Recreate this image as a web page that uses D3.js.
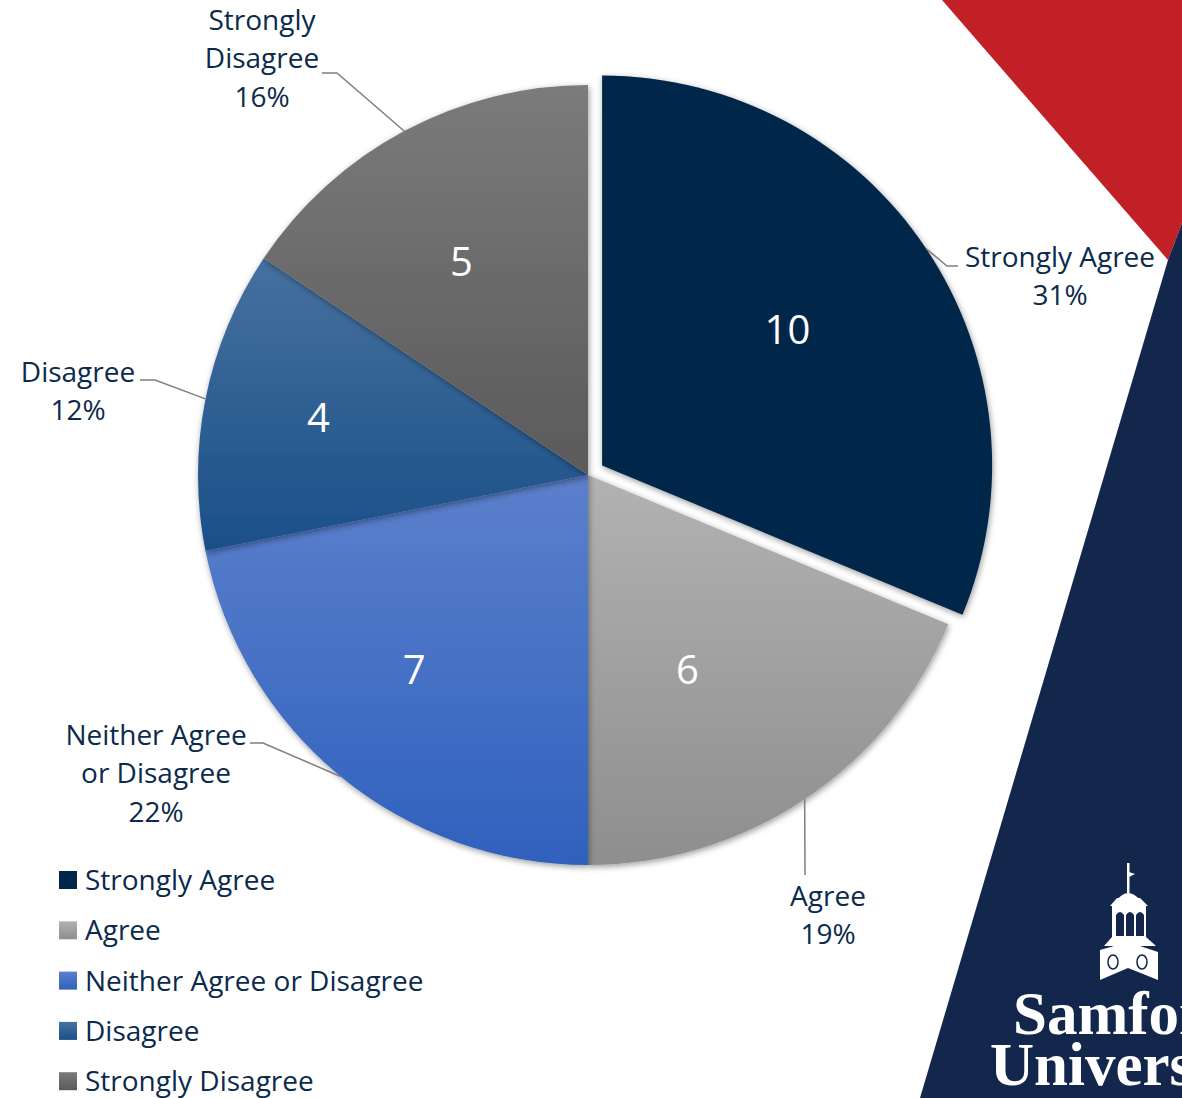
<!DOCTYPE html>
<html>
<head>
<meta charset="utf-8">
<script src="https://cdn.jsdelivr.net/npm/d3@7"></script>
<style>
  body { margin: 0; background: #fff; }
  svg { display: block; font-family: "Open Sans", sans-serif; }
</style>
</head>
<body>
<div id="chart"></div>
<script>
// chart data
let categories = ["Strongly Agree", "Agree", "Neither Agree or Disagree", "Disagree", "Strongly Disagree"];
let values = [10, 6, 7, 4, 5];
let percentLabels = ["31%", "19%", "22%", "12%", "16%"];
let labelLines = [["Strongly Agree"], ["Agree"], ["Neither Agree", "or Disagree"], ["Disagree"], ["Strongly", "Disagree"]];

// slice colours (top, bottom of gradient)
let colorsTop = ["#012649", "#b2b2b2", "#5c80cc", "#46719f", "#7b7b7b"];
let colorsBottom = ["#012649", "#8e8e8e", "#2f61bd", "#1a4f88", "#5a5a5a"];

let svgWidth = 1182;
let svgHeight = 1098;
let cx = 588;
let cy = 475;
let radius = 390;
let explode = 17;
let textColor = "#0b2a4c";

// label layout tweaks (Excel best-fit placement)
let valueRadius = [0.59, 0.56, 0.67, 0.71, 0.64];
let valueNudge = [[-6, -8], [-22, 13], [-8, -7], [2, -3], [-9, 7]];
let labelCenter = [[472, -199], [240, 440], [-432, 298], [-510, -84], [-326, -417]];
let labelElbow = [[[359, -209], [370, -209]], [[217, 400], [217, 400]], [[-325, 268], [-338, 268]], [[-433, -95], [-448, -95]], [[-251, -402], [-266, -402]]];

let svg = d3
  .select("#chart")
  .append("svg")
  .attr("width", svgWidth)
  .attr("height", svgHeight);

let defs = svg.append("defs");

categories.forEach(function(c, i) {
  let g = defs
    .append("linearGradient")
    .attr("id", "grad" + i)
    .attr("x1", 0).attr("y1", 0)
    .attr("x2", 0).attr("y2", 1);
  g.append("stop").attr("offset", "0%").attr("stop-color", colorsTop[i]);
  g.append("stop").attr("offset", "100%").attr("stop-color", colorsBottom[i]);
});

let shadow = defs
  .append("filter")
  .attr("id", "shadow")
  .attr("x", "-10%").attr("y", "-10%")
  .attr("width", "120%").attr("height", "120%");
shadow
  .append("feDropShadow")
  .attr("dx", 1)
  .attr("dy", 2)
  .attr("stdDeviation", 3)
  .attr("flood-color", "#000")
  .attr("flood-opacity", 0.4);

// background decoration
svg.append("polygon")
  .attr("points", "942,0 1182,0 1182,223 1168,260")
  .attr("fill", "#c12026");
svg.append("polygon")
  .attr("points", "1182,223 1168,260 920,1098 1182,1098")
  .attr("fill", "#13264b");

// steeple logo
let logo = svg.append("g").attr("fill", "#fff");
logo.append("rect").attr("x", 1127).attr("y", 863).attr("width", 2.5).attr("height", 30);
logo.append("polygon").attr("points", "1129,872 1135,874 1129,877");
logo.append("path").attr("d", "M1117,900 Q1128,886 1140,900 Z");
logo.append("polygon").attr("points", "1110,906 1117,898 1140,898 1148,906");
logo.append("rect").attr("x", 1112).attr("y", 906).attr("width", 34).attr("height", 32);
logo.append("polygon").attr("points", "1104,946 1112,937 1146,937 1156,946");
logo.append("polygon").attr("points", "1100,950 1128,942 1158,952 1158,980 1128,968 1100,980");
let holes = svg.append("g").attr("fill", "#13264b");
holes.append("path").attr("d", "M1116,936 V915 Q1120,909 1124,915 V936 Z");
holes.append("path").attr("d", "M1126,936 V915 Q1130,909 1134,915 V936 Z");
holes.append("path").attr("d", "M1136,936 V915 Q1140,909 1144,915 V936 Z");
holes.append("ellipse").attr("cx", 1113).attr("cy", 962).attr("rx", 5).attr("ry", 7).attr("fill", "none").attr("stroke", "#13264b").attr("stroke-width", 1.5);
holes.append("ellipse").attr("cx", 1142).attr("cy", 962).attr("rx", 5).attr("ry", 7).attr("fill", "none").attr("stroke", "#13264b").attr("stroke-width", 1.5);

svg.append("text")
  .attr("x", 1013).attr("y", 1034)
  .attr("fill", "#fff")
  .style("font-family", "'Liberation Serif', 'DejaVu Serif', serif")
  .style("font-weight", "bold")
  .style("font-size", "61px")
  .text("Samford");
svg.append("text")
  .attr("x", 990).attr("y", 1085)
  .attr("fill", "#fff")
  .style("font-family", "'Liberation Serif', 'DejaVu Serif', serif")
  .style("font-weight", "bold")
  .style("font-size", "61px")
  .text("University");

// pie
let pie = d3.pie().sort(null).value(d => d);
let arcs = pie(values);
let arc = d3.arc().innerRadius(0).outerRadius(radius);

function offsetOf(d, i) {
  if (i !== 0) return [0, 0];
  let a = (d.startAngle + d.endAngle) / 2;
  return [Math.sin(a) * explode, -Math.cos(a) * explode];
}

let pieGroup = svg.append("g").attr("transform", `translate(${cx}, ${cy})`);

pieGroup
  .selectAll("path.slice")
  .data(arcs)
  .enter()
  .append("path")
  .attr("class", "slice")
  .attr("d", arc)
  .attr("transform", (d, i) => `translate(${offsetOf(d, i)})`)
  .attr("fill", (d, i) => `url(#grad${i})`)
  .attr("filter", "url(#shadow)");

// value labels
pieGroup
  .selectAll("text.value")
  .data(arcs)
  .enter()
  .append("text")
  .attr("class", "value")
  .attr("x", (d, i) => {
    let a = (d.startAngle + d.endAngle) / 2;
    return offsetOf(d, i)[0] + Math.sin(a) * radius * valueRadius[i] + valueNudge[i][0];
  })
  .attr("y", (d, i) => {
    let a = (d.startAngle + d.endAngle) / 2;
    return offsetOf(d, i)[1] - Math.cos(a) * radius * valueRadius[i] + valueNudge[i][1];
  })
  .attr("dy", "0.36em")
  .attr("text-anchor", "middle")
  .attr("fill", "#fff")
  .style("font-size", "40px")
  .text(d => d.data);

// leader lines
pieGroup
  .selectAll("polyline.leader")
  .data(arcs)
  .enter()
  .append("polyline")
  .attr("class", "leader")
  .attr("points", (d, i) => {
    let a = (d.startAngle + d.endAngle) / 2;
    let o = offsetOf(d, i);
    let start = [o[0] + Math.sin(a) * radius, o[1] - Math.cos(a) * radius];
    return [start, labelElbow[i][0], labelElbow[i][1]].map(p => p.join(",")).join(" ");
  })
  .attr("fill", "none")
  .attr("stroke", "#7f7f7f")
  .attr("stroke-width", 1.5);

// outside category labels
let lineHeight = 38.5;
let outer = pieGroup
  .selectAll("text.cat")
  .data(arcs)
  .enter()
  .append("text")
  .attr("class", "cat")
  .attr("text-anchor", "middle")
  .attr("fill", textColor)
  .style("font-size", "28px");

outer.each(function(d, i) {
  let lines = labelLines[i].concat([percentLabels[i]]);
  let top = labelCenter[i][1] - (lines.length - 1) * lineHeight / 2;
  let t = d3.select(this);
  lines.forEach(function(l, j) {
    t.append("tspan")
      .attr("x", labelCenter[i][0])
      .attr("y", top + j * lineHeight)
      .attr("dy", "0.36em")
      .text(l);
  });
});

// legend
let legend = svg
  .append("g")
  .selectAll("g")
  .data(categories)
  .enter()
  .append("g")
  .attr("transform", (d, i) => `translate(59, ${880 + i * 50.3})`);

legend
  .append("rect")
  .attr("x", 0)
  .attr("y", -9)
  .attr("width", 18)
  .attr("height", 18)
  .attr("fill", (d, i) => `url(#grad${i})`);

legend
  .append("text")
  .attr("x", 26)
  .attr("y", 0)
  .attr("dy", "0.36em")
  .attr("fill", textColor)
  .style("font-size", "28px")
  .text(d => d);
</script>
</body>
</html>
